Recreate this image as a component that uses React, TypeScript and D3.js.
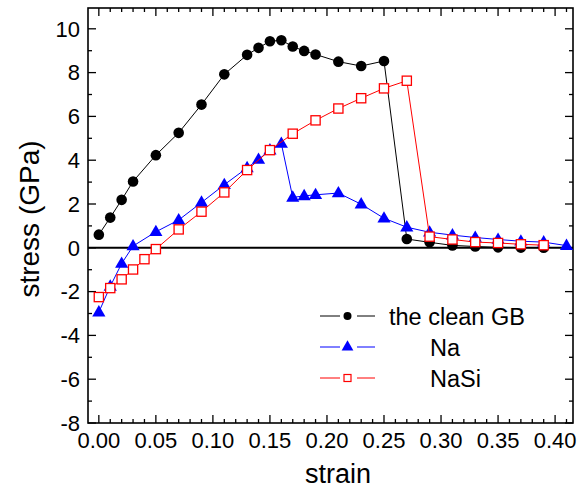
import React from "react";
import * as d3 from "d3";

const cleanStrain = [0.0, 0.01, 0.02, 0.03, 0.05, 0.07, 0.09, 0.11, 0.13, 0.14, 0.15, 0.16, 0.17, 0.18, 0.19, 0.21, 0.23, 0.25, 0.27, 0.29, 0.31, 0.33, 0.35, 0.37, 0.39];
const cleanStress = [0.6, 1.38, 2.19, 3.03, 4.23, 5.25, 6.54, 7.92, 8.81, 9.13, 9.43, 9.48, 9.19, 8.99, 8.83, 8.5, 8.3, 8.53, 0.4, 0.25, 0.11, 0.06, 0.02, 0.01, 0.0];

const naStrain = [0.0, 0.01, 0.02, 0.03, 0.05, 0.07, 0.09, 0.11, 0.13, 0.14, 0.15, 0.16, 0.17, 0.18, 0.19, 0.21, 0.23, 0.25, 0.27, 0.29, 0.31, 0.33, 0.35, 0.37, 0.39, 0.41];
const naStress = [-2.94, -1.76, -0.72, 0.08, 0.73, 1.27, 2.07, 2.88, 3.65, 4.03, 4.46, 4.76, 2.3, 2.37, 2.42, 2.5, 1.99, 1.35, 0.94, 0.71, 0.58, 0.47, 0.38, 0.3, 0.26, 0.1];

const nasiStrain = [0.0, 0.01, 0.02, 0.03, 0.04, 0.05, 0.07, 0.09, 0.11, 0.13, 0.15, 0.17, 0.19, 0.21, 0.23, 0.25, 0.27, 0.29, 0.31, 0.33, 0.35, 0.37, 0.39];
const nasiStress = [-2.25, -1.84, -1.44, -0.99, -0.52, -0.06, 0.84, 1.65, 2.53, 3.55, 4.46, 5.21, 5.82, 6.36, 6.83, 7.28, 7.63, 0.51, 0.38, 0.26, 0.22, 0.16, 0.12];

const xTickLabels = ["0.00", "0.05", "0.10", "0.15", "0.20", "0.25", "0.30", "0.35", "0.40"];
const yTickLabels = ["-8", "-6", "-4", "-2", "0", "2", "4", "6", "8", "10"];
const legendLabels = ["the clean GB", "Na", "NaSi"];

const W = 577;
const H = 490;
const L = 88, R = 573, T = 8, B = 423;
const FONT = "'Liberation Sans', Arial, Helvetica, sans-serif";

const x = d3.scaleLinear().domain([-0.0095, 0.4157]).range([L, R]);
const y = d3.scaleLinear().domain([-8, 10.95]).range([B, T]);

type Kind = "circle" | "triangle" | "square";

function Marker({ kind, cx, cy }: { kind: Kind; cx: number; cy: number }) {
  if (kind === "circle") return <circle cx={cx} cy={cy} r={5.3} fill="#000" />;
  if (kind === "triangle") {
    const p = d3.symbol().type(d3.symbolTriangle).size(75)();
    return <path d={p || ""} transform={`translate(${cx},${cy + 0.5})`} fill="#0000ff" />;
  }
  return <rect x={cx - 4.6} y={cy - 4.6} width={9.2} height={9.2} fill="#fff" stroke="#ff0000" strokeWidth={1.3} />;
}

function Series({ xs, ys, color, kind }: { xs: number[]; ys: number[]; color: string; kind: Kind }) {
  const line = d3.line<number>().x((_, i) => x(xs[i])).y((d) => y(d));
  return (
    <g>
      <path d={line(ys) || ""} fill="none" stroke={color} strokeWidth={1} />
      {ys.map((v, i) => (
        <Marker key={i} kind={kind} cx={x(xs[i])} cy={y(v)} />
      ))}
    </g>
  );
}

export default function App() {
  const xMinor = d3.range(0, 42).map((i) => i * 0.01).filter((v) => v <= 0.415);
  const yMinor = d3.range(-8, 11, 1);
  const legendColors = ["#000", "#0000ff", "#ff0000"];
  const legendTextX = [389, 430, 430];
  const legendY = [316, 347, 378];
  return (
    <svg width={W} height={H} style={{ position: "absolute", left: 0, top: 0, background: "#fff" }} fontFamily={FONT}>
      <rect x={0} y={0} width={W} height={H} fill="#fff" />
      <line x1={L} x2={R} y1={y(0)} y2={y(0)} stroke="#000" strokeWidth={2} />
      {xMinor.map((v, i) => {
        const major = Math.round(v * 100) % 5 === 0;
        const len = major ? 8 : 4;
        return (
          <g key={"xt" + i}>
            <line x1={x(v)} x2={x(v)} y1={B} y2={B - len} stroke="#000" strokeWidth={1.3} />
            <line x1={x(v)} x2={x(v)} y1={T} y2={T + len} stroke="#000" strokeWidth={1.3} />
          </g>
        );
      })}
      {yMinor.map((v, i) => {
        const major = v % 2 === 0;
        const len = major ? 8 : 4;
        return (
          <g key={"yt" + i}>
            <line x1={L} x2={L + len} y1={y(v)} y2={y(v)} stroke="#000" strokeWidth={1.3} />
            <line x1={R} x2={R - len} y1={y(v)} y2={y(v)} stroke="#000" strokeWidth={1.3} />
          </g>
        );
      })}
      <rect x={L} y={T} width={R - L} height={B - T} fill="none" stroke="#000" strokeWidth={1.6} />
      {xTickLabels.map((t) => (
        <text key={t} x={x(+t)} y={448} textAnchor="middle" fontSize={22} fill="#000">
          {t}
        </text>
      ))}
      {yTickLabels.map((t) => (
        <text key={t} x={80} y={y(+t) + 7.8} textAnchor="end" fontSize={22} fill="#000">
          {t}
        </text>
      ))}
      <text x={338} y={483} textAnchor="middle" fontSize={27} fill="#000">
        strain
      </text>
      <text transform={`translate(39,219) rotate(-90)`} textAnchor="middle" fontSize={28} fill="#000">
        stress (GPa)
      </text>
      <Series xs={cleanStrain} ys={cleanStress} color="#000" kind="circle" />
      <Series xs={naStrain} ys={naStress} color="#0000ff" kind="triangle" />
      <Series xs={nasiStrain} ys={nasiStress} color="#ff0000" kind="square" />
      {legendLabels.map((lab, i) => {
        const ly = legendY[i];
        return (
          <g key={lab}>
            <line x1={320} x2={340} y1={ly} y2={ly} stroke={legendColors[i]} strokeWidth={1} />
            <line x1={357} x2={375} y1={ly} y2={ly} stroke={legendColors[i]} strokeWidth={1} />
            {i === 0 ? (
              <circle cx={347.5} cy={ly} r={4} fill="#000" />
            ) : i === 1 ? (
              <path d={d3.symbol().type(d3.symbolTriangle).size(60)() || ""} transform={`translate(347.5,${ly})`} fill="#0000ff" />
            ) : (
              <rect x={344} y={ly - 3.5} width={7} height={7} fill="#fff" stroke="#ff0000" strokeWidth={1.2} />
            )}
            <text x={legendTextX[i]} y={ly + 8.5} fontSize={23.5} fill="#000">
              {lab}
            </text>
          </g>
        );
      })}
    </svg>
  );
}
